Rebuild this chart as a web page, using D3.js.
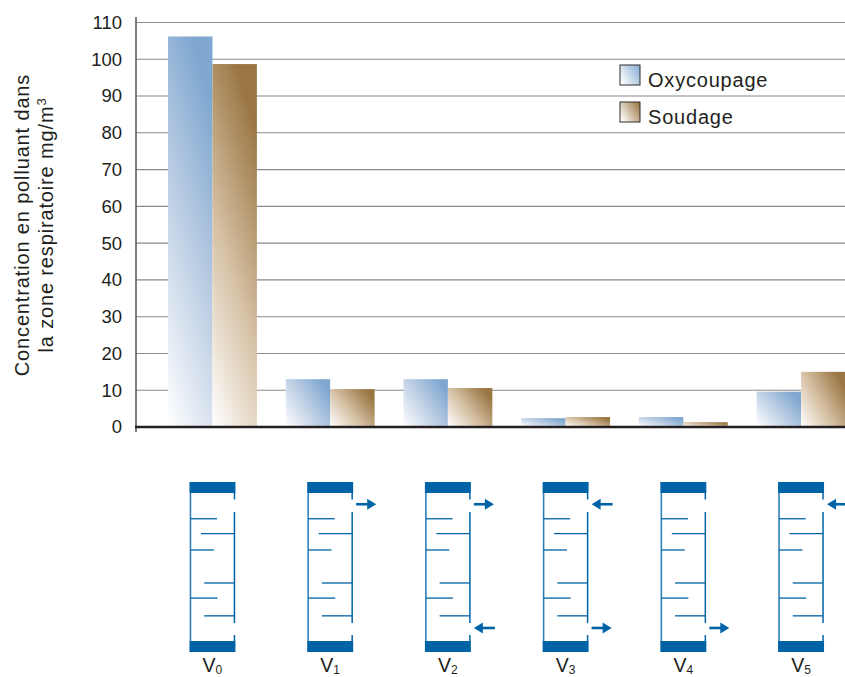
<!DOCTYPE html>
<html>
<head>
<meta charset="utf-8">
<script src="https://cdnjs.cloudflare.com/ajax/libs/d3/7.8.5/d3.min.js"></script>
<style>
  html, body { margin: 0; padding: 0; background: #fff; overflow: hidden; }
  text { font-family: "Liberation Sans", sans-serif; fill: #231f20; }
</style>
</head>
<body>
<svg id="chart" width="845" height="677"></svg>
<script>
// data
const categories = ['0', '1', '2', '3', '4', '5']
const oxycoupage = [106.2, 13, 13, 2.4, 2.7, 9.6]
const soudage = [98.7, 10.3, 10.6, 2.7, 1.3, 15]
const seriesNames = ['Oxycoupage', 'Soudage']
const yTicks = [0, 10, 20, 30, 40, 50, 60, 70, 80, 90, 100, 110]
const titleLine1 = 'Concentration en polluant dans'
const titleLine2 = 'la zone respiratoire mg/m'

// cabin drawing, heights in % from the top of the cabin, widths in % of its width
const leftFins = [[17.4, 60], [38.5, 53], [71, 61]]
const rightFins = [[27.5, 25], [60.8, 32], [83, 32]]
const wallGaps = [[4.4, 12.8], [87.8, 96]]
// arrows: category, height, direction (1 = goes out to the right, -1 = comes in)
const arrows = [
  ['1', 7.6, 1],
  ['2', 7.6, 1],
  ['2', 91.2, -1],
  ['3', 7.6, -1],
  ['3', 91.2, 1],
  ['4', 91.2, 1],
  ['5', 7.6, -1],
]

const blue = '#0063a6'
const svg = d3.select('#chart')
const y = d3.scaleLinear().domain([0, 110]).range([427, 22.5])
const x = d3.scaleBand().domain(categories).range([153.6, 859.9]).paddingInner(0.245).paddingOuter(0.1225)
const xInner = d3.scaleBand().domain(seriesNames).range([0, x.bandwidth()])

// gradients
const defs = svg.append('defs')
function gradient(id, dir, stops) {
  const g = defs.append('linearGradient').attr('id', id)
    .attr('x1', dir[0]).attr('y1', dir[1]).attr('x2', dir[2]).attr('y2', dir[3])
  stops.forEach(s => g.append('stop').attr('offset', s[0]).attr('stop-color', s[1]))
}
const tallDir = [0, 1, 0.4, -0.05]
const lowDir = [0, 1, 1, 0.3]
const blueStops = [[0, '#ffffff'], [0.5, '#c2d2e6'], [1, '#7fa7d0']]
const brownStops = [[0, '#ffffff'], [0.5, '#d5c0a3'], [1, '#9a7643']]
gradient('tallBlue', tallDir, blueStops)
gradient('tallBrown', tallDir, brownStops)
gradient('lowBlue', lowDir, blueStops)
gradient('lowBrown', lowDir, brownStops)
gradient('keyBlue', [0, 0.8, 1, 0.2], [[0, '#ffffff'], [1, '#8fb3d8']])
gradient('keyBrown', [0, 0.8, 1, 0.2], [[0, '#ffffff'], [1, '#a17c4b']])

// grid + y axis
const yAxis = d3.axisLeft(y).tickValues(yTicks).tickSize(0).tickPadding(14)
const axisG = svg.append('g').attr('transform', 'translate(136,0)').call(yAxis)
axisG.select('.domain').remove()
axisG.selectAll('text').style('font-size', '18.5px').attr('text-anchor', 'end')
svg.append('g').selectAll('line')
  .data(yTicks.filter(d => d > 0))
  .join('line')
  .attr('x1', 136).attr('x2', 845)
  .attr('y1', d => y(d)).attr('y2', d => y(d))
  .attr('stroke', '#8a8a8a').attr('stroke-width', 1.1)

// bars
const series = [oxycoupage, soudage]
const hues = ['Blue', 'Brown']
seriesNames.forEach((name, i) => {
  svg.append('g').selectAll('rect')
    .data(series[i])
    .join('rect')
    .attr('x', (d, j) => x(categories[j]) + xInner(name))
    .attr('y', d => y(d))
    .attr('width', xInner.bandwidth())
    .attr('height', d => y(0) - y(d))
    .attr('fill', d => `url(#${d > 50 ? 'tall' : 'low'}${hues[i]})`)
})

// axis lines
svg.append('line').attr('x1', 136).attr('x2', 136).attr('y1', 17).attr('y2', 432)
  .attr('stroke', '#555').attr('stroke-width', 1.5)
svg.append('line').attr('x1', 135).attr('x2', 845).attr('y1', y(0)).attr('y2', y(0))
  .attr('stroke', '#231f20').attr('stroke-width', 2.5)

// y title
const title = svg.append('g').attr('transform', 'translate(29,225) rotate(-90)')
  .append('text').attr('text-anchor', 'middle')
  .style('font-size', '20px').style('letter-spacing', '0.85px')
title.append('tspan').attr('x', 0).text(titleLine1)
title.append('tspan').attr('x', 0).attr('dy', 24).text(titleLine2)
title.append('tspan').attr('dy', -7).style('font-size', '13px').text('3')

// legend
const legend = svg.append('g').selectAll('g').data(seriesNames).join('g')
  .attr('transform', (d, i) => `translate(620,${65 + i * 37})`)
legend.append('rect').attr('width', 20).attr('height', 20)
  .attr('fill', (d, i) => i ? 'url(#keyBrown)' : 'url(#keyBlue)')
  .attr('stroke', '#2b2b2b').attr('stroke-width', 1)
legend.append('text').attr('x', 28).attr('y', 22)
  .style('font-size', '20px').style('letter-spacing', '0.8px')
  .text(d => d)

// cabins
const cabinW = 46
const cabinY = d3.scaleLinear().domain([0, 100]).range([493, 641])
const cabinX = d3.scaleLinear().domain([0, 100]).range([0, cabinW])
const cabins = svg.append('g').selectAll('g').data(categories).join('g')
  .attr('transform', d => `translate(${x(d) + x.bandwidth() / 2 - cabinW / 2},0)`)

cabins.append('rect').attr('x', 0).attr('y', 482).attr('width', cabinW).attr('height', 11).attr('fill', blue)
cabins.append('rect').attr('x', 0).attr('y', 641).attr('width', cabinW).attr('height', 11).attr('fill', blue)
cabins.append('line').attr('x1', 1).attr('x2', 1).attr('y1', 493).attr('y2', 641)
  .attr('stroke', '#2f7fb8').attr('stroke-width', 1.6)

// right wall with its two openings
const wallSegs = [[0, wallGaps[0][0]], [wallGaps[0][1], wallGaps[1][0]], [wallGaps[1][1], 100]]
cabins.selectAll('.wall').data(wallSegs).join('line').attr('class', 'wall')
  .attr('x1', cabinW - 1).attr('x2', cabinW - 1)
  .attr('y1', d => cabinY(d[0])).attr('y2', d => cabinY(d[1]))
  .attr('stroke', blue).attr('stroke-width', 1.5)

cabins.selectAll('.finL').data(leftFins).join('line').attr('class', 'finL')
  .attr('x1', 1).attr('x2', d => cabinX(d[1]))
  .attr('y1', d => cabinY(d[0])).attr('y2', d => cabinY(d[0]))
  .attr('stroke', blue).attr('stroke-width', 1.3)
cabins.selectAll('.finR').data(rightFins).join('line').attr('class', 'finR')
  .attr('x1', d => cabinX(d[1])).attr('x2', cabinW - 1)
  .attr('y1', d => cabinY(d[0])).attr('y2', d => cabinY(d[0]))
  .attr('stroke', blue).attr('stroke-width', 1.3)

// arrows
const arrowG = svg.append('g').selectAll('g').data(arrows).join('g')
  .attr('transform', d => `translate(${x(d[0]) + x.bandwidth() / 2 + cabinW / 2 + 3},${cabinY(d[1])})`)
arrowG.append('line')
  .attr('x1', d => d[2] > 0 ? 0 : 6).attr('x2', d => d[2] > 0 ? 14 : 21)
  .attr('stroke', blue).attr('stroke-width', 2.6)
arrowG.append('path')
  .attr('d', d => d[2] > 0 ? 'M20,0L11,-5.5L11,5.5Z' : 'M0,0L9,-5.5L9,5.5Z')
  .attr('fill', blue)

// cabin labels
const labels = cabins.append('text').attr('x', cabinW / 2).attr('y', 672)
  .attr('text-anchor', 'middle').style('font-size', '19.5px')
labels.append('tspan').text('V')
labels.append('tspan').attr('dy', 1.5).style('font-size', '12px').text(d => d)
</script>
</body>
</html>
